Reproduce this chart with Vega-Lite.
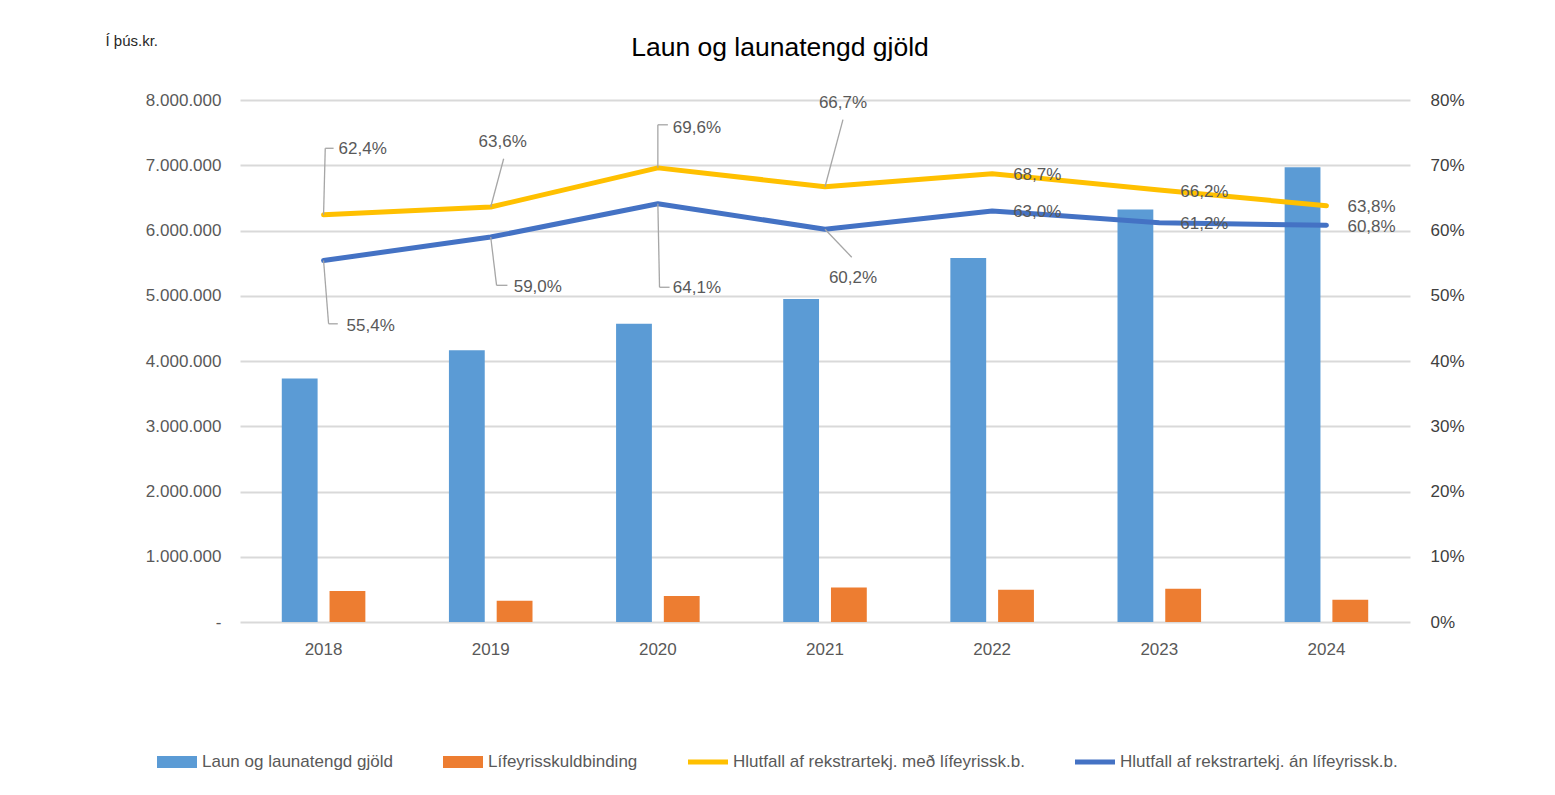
{
  "$schema": "https://vega.github.io/schema/vega-lite/v6.json",
  "width": 1170,
  "height": 522,
  "autosize": {"type": "none"},
  "padding": {"left": 240, "top": 100, "right": 145, "bottom": 173},
  "title": {"text": "Laun og launatengd gjöld", "fontSize": 26.5, "fontWeight": "normal", "color": "#000000", "anchor": "middle", "dx": -45, "dy": 79, "offset": 30, "baseline": "alphabetic"},
  "data": {"values": [
    {"year": "2018", "series": "Laun og launatengd gjöld", "value": 3730000},
    {"year": "2019", "series": "Laun og launatengd gjöld", "value": 4165000},
    {"year": "2020", "series": "Laun og launatengd gjöld", "value": 4570000},
    {"year": "2021", "series": "Laun og launatengd gjöld", "value": 4950000},
    {"year": "2022", "series": "Laun og launatengd gjöld", "value": 5580000},
    {"year": "2023", "series": "Laun og launatengd gjöld", "value": 6320000},
    {"year": "2024", "series": "Laun og launatengd gjöld", "value": 6970000},
    {"year": "2018", "series": "Lífeyrisskuldbinding", "value": 475000},
    {"year": "2019", "series": "Lífeyrisskuldbinding", "value": 325000},
    {"year": "2020", "series": "Lífeyrisskuldbinding", "value": 400000},
    {"year": "2021", "series": "Lífeyrisskuldbinding", "value": 530000},
    {"year": "2022", "series": "Lífeyrisskuldbinding", "value": 495000},
    {"year": "2023", "series": "Lífeyrisskuldbinding", "value": 510000},
    {"year": "2024", "series": "Lífeyrisskuldbinding", "value": 340000},
    {"year": "2018", "series": "Hlutfall af rekstrartekj. með lífeyrissk.b.", "value": 0.624},
    {"year": "2019", "series": "Hlutfall af rekstrartekj. með lífeyrissk.b.", "value": 0.636},
    {"year": "2020", "series": "Hlutfall af rekstrartekj. með lífeyrissk.b.", "value": 0.696},
    {"year": "2021", "series": "Hlutfall af rekstrartekj. með lífeyrissk.b.", "value": 0.667},
    {"year": "2022", "series": "Hlutfall af rekstrartekj. með lífeyrissk.b.", "value": 0.687},
    {"year": "2023", "series": "Hlutfall af rekstrartekj. með lífeyrissk.b.", "value": 0.662},
    {"year": "2024", "series": "Hlutfall af rekstrartekj. með lífeyrissk.b.", "value": 0.638},
    {"year": "2018", "series": "Hlutfall af rekstrartekj. án lífeyrissk.b.", "value": 0.554},
    {"year": "2019", "series": "Hlutfall af rekstrartekj. án lífeyrissk.b.", "value": 0.590},
    {"year": "2020", "series": "Hlutfall af rekstrartekj. án lífeyrissk.b.", "value": 0.641},
    {"year": "2021", "series": "Hlutfall af rekstrartekj. án lífeyrissk.b.", "value": 0.602},
    {"year": "2022", "series": "Hlutfall af rekstrartekj. án lífeyrissk.b.", "value": 0.630},
    {"year": "2023", "series": "Hlutfall af rekstrartekj. án lífeyrissk.b.", "value": 0.612},
    {"year": "2024", "series": "Hlutfall af rekstrartekj. án lífeyrissk.b.", "value": 0.608}
  ]},
  "encoding": {
    "x": {"field": "year", "type": "nominal", "scale": {"paddingInner": 0.5, "paddingOuter": 0.25},
      "axis": {"title": null, "labelAngle": 0, "domain": false, "ticks": false, "labelPadding": 19, "labelFontSize": 17, "labelColor": "#595959", "grid": false}}
  },
  "layer": [
    {
      "transform": [{"filter": {"field": "series", "oneOf": ["Laun og launatengd gjöld", "Lífeyrisskuldbinding"]}}],
      "mark": {"type": "bar"},
      "encoding": {
        "xOffset": {"field": "series", "type": "nominal", "scale": {"domain": ["Laun og launatengd gjöld", "Lífeyrisskuldbinding"], "paddingInner": 0.25, "paddingOuter": 0}},
        "y": {"field": "value", "type": "quantitative", "scale": {"domain": [0, 8000000], "nice": false},
          "axis": {"orient": "left", "values": [0, 1000000, 2000000, 3000000, 4000000, 5000000, 6000000, 7000000, 8000000], "format": ",.0f", "labelExpr": "datum.value === 0 ? '-' : datum.label", "grid": true, "gridColor": "#d9d9d9", "gridWidth": 2, "domain": false, "ticks": false, "labelPadding": 19, "labelFontSize": 17, "labelColor": "#595959",
            "title": "Í þús.kr.", "titleAngle": 0, "titleX": -135, "titleY": -60, "titleAlign": "left", "titleBaseline": "middle", "titleFontSize": 15, "titleFontWeight": "normal", "titleColor": "#262626"}},
        "color": {"field": "series", "type": "nominal",
          "scale": {"domain": ["Laun og launatengd gjöld", "Lífeyrisskuldbinding", "Hlutfall af rekstrartekj. með lífeyrissk.b.", "Hlutfall af rekstrartekj. án lífeyrissk.b."], "range": ["#5b9bd5", "#ed7d31", "#ffc000", "#4472c4"]},
          "legend": {"orient": "none", "legendX": -83, "legendY": 642, "direction": "horizontal", "columns": 4, "title": null, "columnPadding": 50, "labelFontSize": 17, "labelColor": "#595959", "labelOffset": 5, "symbolType": "M-1,-0.3L1,-0.3L1,0.3L-1,0.3Z", "symbolSize": 1600, "symbolStrokeWidth": 0, "labelLimit": 400,
            "encode": {"symbols": {"update": {"shape": {"signal": "datum.index < 2 ? 'M-1,-0.3L1,-0.3L1,0.3L-1,0.3Z' : 'M-1,-0.12L1,-0.12L1,0.12L-1,0.12Z'"}, "fill": {"signal": "scale('color', datum.value)"}, "stroke": {"value": "transparent"}, "opacity": {"value": 1}}}}}}
      }
    },
    {
      "transform": [{"filter": {"field": "series", "oneOf": ["Hlutfall af rekstrartekj. með lífeyrissk.b.", "Hlutfall af rekstrartekj. án lífeyrissk.b."]}}],
      "encoding": {
        "y": {"field": "value", "type": "quantitative", "scale": {"domain": [0, 0.8], "nice": false},
          "axis": {"orient": "right", "values": [0, 0.1, 0.2, 0.3, 0.4, 0.5, 0.6, 0.7, 0.8], "format": ".0%", "grid": false, "domain": false, "ticks": false, "labelPadding": 20, "labelFontSize": 17, "labelColor": "#404040", "title": null}}
      },
      "layer": [
        {
          "mark": {"type": "line", "strokeWidth": 5, "strokeCap": "round", "strokeJoin": "round"},
          "encoding": {
            "color": {"field": "series", "type": "nominal",
              "scale": {"domain": ["Laun og launatengd gjöld", "Lífeyrisskuldbinding", "Hlutfall af rekstrartekj. með lífeyrissk.b.", "Hlutfall af rekstrartekj. án lífeyrissk.b."], "range": ["#5b9bd5", "#ed7d31", "#ffc000", "#4472c4"]},
              "legend": {"orient": "none", "legendX": -83, "legendY": 642, "direction": "horizontal", "columns": 4, "title": null, "columnPadding": 50, "labelFontSize": 17, "labelColor": "#595959", "labelOffset": 5, "symbolType": "M-1,-0.3L1,-0.3L1,0.3L-1,0.3Z", "symbolSize": 1600, "symbolStrokeWidth": 0, "labelLimit": 400,
                "encode": {"symbols": {"update": {"shape": {"signal": "datum.index < 2 ? 'M-1,-0.3L1,-0.3L1,0.3L-1,0.3Z' : 'M-1,-0.12L1,-0.12L1,0.12L-1,0.12Z'"}, "fill": {"signal": "scale('color', datum.value)"}, "stroke": {"value": "transparent"}, "opacity": {"value": 1}}}}}}
          }
        },
        {
          "transform": [{"filter": "toNumber(datum.year) >= 2022"}],
          "mark": {"type": "text", "align": "left", "baseline": "middle", "dx": 21, "dy": 1.5, "fontSize": 17, "color": "#595959"},
          "encoding": {"text": {"field": "value", "type": "quantitative", "format": ".1%"}}
        },
        {
          "transform": [{"filter": "datum.year == '2018' && datum.series == 'Hlutfall af rekstrartekj. með lífeyrissk.b.'"}],
          "layer": [
            {"mark": {"type": "rule", "color": "#a6a6a6", "strokeWidth": 1.3}, "encoding": {"x": {"field": "year", "type": "nominal", "bandPosition": 0.5}, "x2": {"field": "year", "bandPosition": 0.52}, "y2": {"datum": 0.726}}},
            {"mark": {"type": "rule", "color": "#a6a6a6", "strokeWidth": 1.3}, "encoding": {"x": {"field": "year", "type": "nominal", "bandPosition": 0.52}, "x2": {"field": "year", "bandPosition": 0.62}, "y": {"datum": 0.726}}},
            {"mark": {"type": "text", "align": "left", "baseline": "middle", "dx": 15, "dy": -66, "fontSize": 17, "color": "#595959"}, "encoding": {"text": {"field": "value", "type": "quantitative", "format": ".1%"}}}
          ]
        },
        {
          "transform": [{"filter": "datum.year == '2019' && datum.series == 'Hlutfall af rekstrartekj. með lífeyrissk.b.'"}],
          "layer": [
            {"mark": {"type": "rule", "color": "#a6a6a6", "strokeWidth": 1.3}, "encoding": {"x": {"field": "year", "type": "nominal", "bandPosition": 0.5}, "x2": {"field": "year", "bandPosition": 0.655}, "y2": {"datum": 0.71}}},
            {"mark": {"type": "text", "align": "center", "baseline": "middle", "dx": 12, "dy": -65, "fontSize": 17, "color": "#595959"}, "encoding": {"text": {"field": "value", "type": "quantitative", "format": ".1%"}}}
          ]
        },
        {
          "transform": [{"filter": "datum.year == '2020' && datum.series == 'Hlutfall af rekstrartekj. með lífeyrissk.b.'"}],
          "layer": [
            {"mark": {"type": "rule", "color": "#a6a6a6", "strokeWidth": 1.3}, "encoding": {"x": {"field": "year", "type": "nominal", "bandPosition": 0.5}, "x2": {"field": "year", "bandPosition": 0.5}, "y2": {"datum": 0.762}}},
            {"mark": {"type": "rule", "color": "#a6a6a6", "strokeWidth": 1.3}, "encoding": {"x": {"field": "year", "type": "nominal", "bandPosition": 0.5}, "x2": {"field": "year", "bandPosition": 0.62}, "y": {"datum": 0.762}}},
            {"mark": {"type": "text", "align": "left", "baseline": "middle", "dx": 15, "dy": -40, "fontSize": 17, "color": "#595959"}, "encoding": {"text": {"field": "value", "type": "quantitative", "format": ".1%"}}}
          ]
        },
        {
          "transform": [{"filter": "datum.year == '2021' && datum.series == 'Hlutfall af rekstrartekj. með lífeyrissk.b.'"}],
          "layer": [
            {"mark": {"type": "rule", "color": "#a6a6a6", "strokeWidth": 1.3}, "encoding": {"x": {"field": "year", "type": "nominal", "bandPosition": 0.5}, "x2": {"field": "year", "bandPosition": 0.715}, "y2": {"datum": 0.77}}},
            {"mark": {"type": "text", "align": "center", "baseline": "middle", "dx": 18, "dy": -84, "fontSize": 17, "color": "#595959"}, "encoding": {"text": {"field": "value", "type": "quantitative", "format": ".1%"}}}
          ]
        },
        {
          "transform": [{"filter": "datum.year == '2018' && datum.series == 'Hlutfall af rekstrartekj. án lífeyrissk.b.'"}],
          "layer": [
            {"mark": {"type": "rule", "color": "#a6a6a6", "strokeWidth": 1.3}, "encoding": {"x": {"field": "year", "type": "nominal", "bandPosition": 0.5}, "x2": {"field": "year", "bandPosition": 0.56}, "y2": {"datum": 0.457}}},
            {"mark": {"type": "rule", "color": "#a6a6a6", "strokeWidth": 1.3}, "encoding": {"x": {"field": "year", "type": "nominal", "bandPosition": 0.56}, "x2": {"field": "year", "bandPosition": 0.67}, "y": {"datum": 0.457}}},
            {"mark": {"type": "text", "align": "left", "baseline": "middle", "dx": 23, "dy": 65, "fontSize": 17, "color": "#595959"}, "encoding": {"text": {"field": "value", "type": "quantitative", "format": ".1%"}}}
          ]
        },
        {
          "transform": [{"filter": "datum.year == '2019' && datum.series == 'Hlutfall af rekstrartekj. án lífeyrissk.b.'"}],
          "layer": [
            {"mark": {"type": "rule", "color": "#a6a6a6", "strokeWidth": 1.3}, "encoding": {"x": {"field": "year", "type": "nominal", "bandPosition": 0.5}, "x2": {"field": "year", "bandPosition": 0.57}, "y2": {"datum": 0.516}}},
            {"mark": {"type": "rule", "color": "#a6a6a6", "strokeWidth": 1.3}, "encoding": {"x": {"field": "year", "type": "nominal", "bandPosition": 0.57}, "x2": {"field": "year", "bandPosition": 0.7}, "y": {"datum": 0.516}}},
            {"mark": {"type": "text", "align": "left", "baseline": "middle", "dx": 23, "dy": 50, "fontSize": 17, "color": "#595959"}, "encoding": {"text": {"field": "value", "type": "quantitative", "format": ".1%"}}}
          ]
        },
        {
          "transform": [{"filter": "datum.year == '2020' && datum.series == 'Hlutfall af rekstrartekj. án lífeyrissk.b.'"}],
          "layer": [
            {"mark": {"type": "rule", "color": "#a6a6a6", "strokeWidth": 1.3}, "encoding": {"x": {"field": "year", "type": "nominal", "bandPosition": 0.5}, "x2": {"field": "year", "bandPosition": 0.52}, "y2": {"datum": 0.513}}},
            {"mark": {"type": "rule", "color": "#a6a6a6", "strokeWidth": 1.3}, "encoding": {"x": {"field": "year", "type": "nominal", "bandPosition": 0.52}, "x2": {"field": "year", "bandPosition": 0.64}, "y": {"datum": 0.513}}},
            {"mark": {"type": "text", "align": "left", "baseline": "middle", "dx": 15, "dy": 84, "fontSize": 17, "color": "#595959"}, "encoding": {"text": {"field": "value", "type": "quantitative", "format": ".1%"}}}
          ]
        },
        {
          "transform": [{"filter": "datum.year == '2021' && datum.series == 'Hlutfall af rekstrartekj. án lífeyrissk.b.'"}],
          "layer": [
            {"mark": {"type": "rule", "color": "#a6a6a6", "strokeWidth": 1.3}, "encoding": {"x": {"field": "year", "type": "nominal", "bandPosition": 0.5}, "x2": {"field": "year", "bandPosition": 0.82}, "y2": {"datum": 0.559}}},
            {"mark": {"type": "text", "align": "center", "baseline": "middle", "dx": 28, "dy": 49, "fontSize": 17, "color": "#595959"}, "encoding": {"text": {"field": "value", "type": "quantitative", "format": ".1%"}}}
          ]
        }
      ]
    }
  ],
  "resolve": {"scale": {"y": "independent"}},
  "config": {
    "font": "Liberation Sans",
    "view": {"stroke": null},
    "locale": {"number": {"decimal": ",", "thousands": ".", "grouping": [3], "currency": ["", " kr."], "percent": "%"}}
  }
}
